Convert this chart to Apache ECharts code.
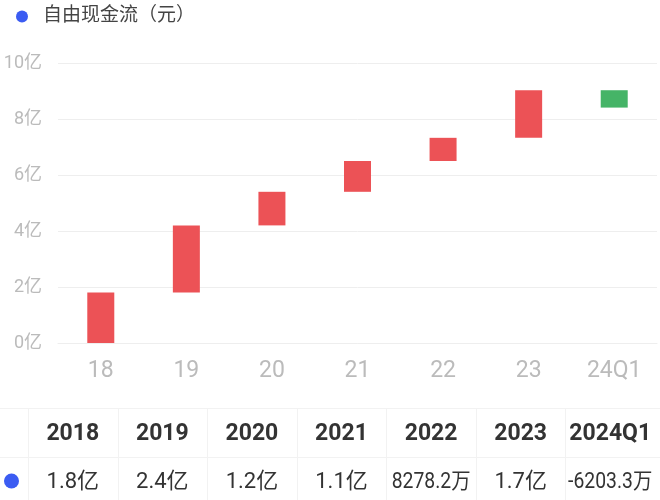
<!DOCTYPE html>
<html>
<head>
<meta charset="utf-8">
<script src="https://cdn.jsdelivr.net/npm/echarts@6/dist/echarts.min.js"></script>
<style>html,body{margin:0;padding:0;background:#fff}#c{width:660px;height:500px}</style>
</head>
<body>
<div id="c"></div>
<script>
var seriesName = '自由现金流（元）';
var categories = ['18', '19', '20', '21', '22', '23', '24Q1'];
var tableYears = ['2018', '2019', '2020', '2021', '2022', '2023', '2024Q1'];
var values = [1.8, 2.4, 1.2, 1.1, 0.8278, 1.7, -0.6203]; // 亿元
var valueLabels = ['1.8亿', '2.4亿', '1.2亿', '1.1亿', '8278.2万', '1.7亿', '-6203.3万'];
var yTicks = [0, 2, 4, 6, 8, 10];

var FONT = 'Roboto, "Noto Sans CJK SC", sans-serif';
var RED = '#ec5256', GREEN = '#45b467', BLUE = '#3b5cf2';

var base = [], height = [];
var cum = 0;
values.forEach(function (v, i) {
  var next = cum + v;
  base.push(Math.min(cum, next));
  height.push({ value: Math.abs(v), itemStyle: { color: v >= 0 ? RED : GREEN } });
  cum = next;
});

var chart = echarts.init(document.getElementById('c'), null, { renderer: 'canvas' });

// table graphics
var tLeft = 28, tRight = 655, tTop = 408, tMid = 457, tBottom = 500;
var colW = (tRight - tLeft) / tableYears.length;
var g = [];
var lineStyle = { stroke: '#f2f2f2', lineWidth: 1 };
g.push({ type: 'line', shape: { x1: 0, y1: tTop + 0.5, x2: 660, y2: tTop + 0.5 }, style: lineStyle });
g.push({ type: 'line', shape: { x1: 0, y1: tMid + 0.5, x2: 660, y2: tMid + 0.5 }, style: lineStyle });
for (var k = 0; k < tableYears.length; k++) {
  var xx = Math.round(tLeft + k * colW) + 0.5;
  g.push({ type: 'line', shape: { x1: xx, y1: tTop, x2: xx, y2: tBottom }, style: lineStyle });
}
g.push({ type: 'circle', shape: { cx: 11.5, cy: 481, r: 7.5 }, style: { fill: BLUE } });
tableYears.forEach(function (y, i) {
  var cx = tLeft + (i + 0.5) * colW;
  g.push({ type: 'text', x: cx, y: 434,
    style: { text: y, fill: '#333', font: 'bold 23px ' + FONT, align: 'center', verticalAlign: 'middle' } });
  var lab = valueLabels[i];
  g.push({ type: 'text', x: cx, y: 482, scaleX: lab.length > 5 ? 0.88 : 1,
    style: { text: lab, fill: '#333', font: '22px ' + FONT, align: 'center', verticalAlign: 'middle' } });
});

chart.setOption({
  animation: false,
  color: [BLUE],
  legend: {
    data: [seriesName],
    left: 11, top: 2,
    icon: 'circle', itemWidth: 12, itemHeight: 12, itemGap: 10,
    textStyle: { fontSize: 19, color: '#444', fontFamily: FONT, padding: [0, 0, 0, 10] }
  },
  grid: { left: 58, right: 3, top: 63, bottom: 157, containLabel: false },
  xAxis: {
    type: 'category',
    data: categories,
    axisLine: { show: true, lineStyle: { color: '#eeeeee' } },
    axisTick: { show: false },
    axisLabel: { color: '#bbbbbb', fontSize: 23, margin: 17, fontFamily: FONT }
  },
  yAxis: {
    type: 'value',
    min: yTicks[0], max: yTicks[yTicks.length - 1], interval: yTicks[1] - yTicks[0],
    axisLine: { show: false },
    axisTick: { show: false },
    axisLabel: { color: '#bbbbbb', fontSize: 18, margin: 16, fontFamily: FONT, formatter: function (v) { return v + '亿'; } },
    splitLine: { lineStyle: { color: '#eeeeee' } }
  },
  series: [
    { name: 'base', type: 'bar', stack: 'w', data: base, barWidth: 27,
      itemStyle: { color: 'transparent' }, silent: true },
    { name: seriesName, type: 'bar', stack: 'w', data: height, barWidth: 27,
      itemStyle: { color: BLUE } }
  ],
  graphic: g
});
</script>
</body>
</html>
